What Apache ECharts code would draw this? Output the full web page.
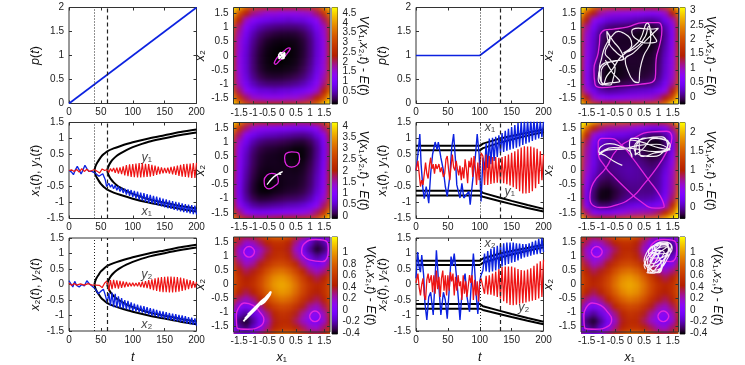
<!DOCTYPE html>
<html>
<head>
<meta charset="utf-8">
<style>
  html, body { margin: 0; background: #fff; }
  #heat, #main { position: absolute; left: 0; top: 0; width: 745px; height: 365px; }
  #main { filter: blur(.4px); }
</style>
<script src="https://cdn.jsdelivr.net/npm/echarts@6/dist/echarts.min.js"></script>
</head>
<body>
<div id="heat"></div>
<div id="main"></div>
<script>
// time axis of the fast oscillating parts
const teethLeft = [60,62.5,65,67.5,70,72.5,75,77.5,80,82.5,85,87.5,90,92.5,95,97.5,100,102.5,105,107.5,110,112.5,115,117.5,120,122.5,125,127.5,130,132.5,135,137.5,140,142.5,145,147.5,150,152.5,155,157.5,160,162.5,165,167.5,170,172.5,175,177.5,180,182.5,185,187.5,190,192.5,195,197.5,200]
const teethRight = [105,107.5,110,112.5,115,117.5,120,122.5,125,127.5,130,132.5,135,137.5,140,142.5,145,147.5,150,152.5,155,157.5,160,162.5,165,167.5,170,172.5,175,177.5,180,182.5,185,187.5,190,192.5,195,197.5,200]

const pLeft = [[0,0],[200,2]]
const pRight = [[0,1],[100,1],[200,2]]
const markLeft = [40,60]
const markRight = [100,132]

// black branches
const upOuter = [[40,0],[41,.1],[43,.2],[46,.3],[50,.42],[55,.52],[60,.6],[70,.69],[80,.76],[100,.88],[125,1],[150,1.1],[175,1.2],[200,1.28]]
const upInner = [[60,0],[61,.08],[63,.18],[66,.28],[70,.37],[75,.46],[80,.53],[90,.64],[100,.73],[125,.9],[150,1.01],[175,1.11],[200,1.19]]
const lowOuter = [[40,0],[41,-.1],[43,-.2],[46,-.3],[50,-.42],[55,-.52],[60,-.6],[70,-.69],[80,-.76],[100,-.88],[125,-1],[150,-1.1],[175,-1.2],[200,-1.28]]
const lowInner = [[60,0],[61,-.08],[63,-.18],[66,-.28],[70,-.37],[75,-.46],[80,-.53],[90,-.64],[100,-.73],[125,-.9],[150,-1.01],[175,-1.11],[200,-1.19]]
const rUpOuter = [[0,.77],[100,.77],[105,.84],[132,1],[150,1.08],[175,1.18],[200,1.28]]
const rUpInner = [[0,.63],[100,.63],[105,.7],[132,.87],[150,.97],[175,1.09],[200,1.2]]
const rLowInner = [[0,-.63],[100,-.63],[105,-.7],[132,-.85],[150,-.95],[175,-1.08],[200,-1.2]]
const rLowOuter = [[0,-.78],[100,-.78],[105,-.82],[132,-.96],[150,-1.05],[175,-1.17],[200,-1.28]]

// panel x1,y1 left
const x1LeftHead = [[0,0],[4,-.05],[7,-.13],[10,.02],[13,.13],[16,.02],[19,-.11],[22,.02],[25,.16],[28,.06],[31,-.03],[35,-.02],[38,0],[41,-.08],[44,-.14],[47,-.18],[50,-.16],[53,-.1],[55,-.08],[57,-.3],[59,-.5]]
const x1LeftTeeth = [-.48,-.4,-.52,-.44,-.57,-.46,-.62,-.5,-.66,-.54,-.7,-.57,-.75,-.59,-.79,-.61,-.83,-.64,-.87,-.66,-.91,-.69,-.94,-.71,-.98,-.74,-1.01,-.76,-1.03,-.79,-1.06,-.82,-1.09,-.85,-1.12,-.88,-1.15,-.9,-1.18,-.93,-1.2,-.96,-1.23,-.98,-1.25,-1,-1.28,-1.03,-1.3,-1.05,-1.32,-1.07,-1.34,-1.08,-1.36,-1.1,-1.37]
const y1LeftHead = [[0,0],[4,.02],[8,-.03],[12,.03],[16,-.05],[20,.06],[24,-.03],[28,.04],[32,-.03],[36,0],[40,.03],[44,-.02],[48,-.08],[52,.05],[56,0]]
const y1LeftTeeth = [.03,-.06,.06,-.03,.08,-.07,.09,-.1,.1,-.11,.13,-.15,.17,-.18,.19,-.2,.2,-.21,.22,-.22,.23,-.22,.23,-.21,.21,-.2,.2,-.19,.18,-.17,.15,-.14,.12,-.11,.1,-.09,.08,-.08,.09,-.1,.11,-.12,.13,-.14,.15,-.17,.18,-.19,.2,-.2,.21,-.22,.22,-.23,.23,-.23,.24]

// panel x2,y2 left
const x2LeftHead = [[0,.12],[3,.02],[6,-.08],[9,.1],[12,-.03],[16,-.08],[20,0],[24,-.05],[28,.12],[32,.02],[36,-.05],[40,-.12],[43,-.2],[46,-.3],[50,-.22],[54,-.15],[57,-.35]]
const x2LeftTeeth = [-.58,-.28,-.68,-.26,-.73,-.3,-.75,-.38,-.76,-.44,-.78,-.5,-.8,-.53,-.82,-.58,-.85,-.62,-.87,-.65,-.89,-.68,-.91,-.7,-.94,-.73,-.97,-.76,-1,-.79,-1.02,-.82,-1.05,-.85,-1.08,-.87,-1.1,-.89,-1.13,-.92,-1.15,-.94,-1.17,-.96,-1.19,-.98,-1.21,-1,-1.23,-1.02,-1.26,-1.05,-1.28,-1.07,-1.3,-1.09,-1.33]
const y2LeftHead = [[0,.05],[4,-.03],[8,.03],[12,-.02],[18,.02],[24,-.02],[30,.03],[36,-.02],[42,-.02],[48,-.03],[52,-.1],[56,.05]]
const y2LeftTeeth = [.12,-.2,.14,-.15,.15,-.12,.13,-.13,.12,-.11,.1,-.09,.08,-.07,.06,-.06,.06,-.06,.05,-.06,.07,-.08,.09,-.1,.11,-.12,.14,-.15,.17,-.18,.2,-.21,.22,-.23,.24,-.25,.25,-.25,.26,-.26,.26,-.26,.25,-.25,.24,-.23,.22,-.21,.2,-.18,.17,-.15,.14,-.12,.11,-.1,.08]

// panel x1,y1 right
const x1RightHead = [[0,0],[3,.5],[6,1.14],[8,.2],[11,-.6],[13,-.88],[16,-.5],[18,-.75],[20,-1.02],[23,-.1],[26,.5],[30,.89],[33,.65],[35,.89],[39,.4],[43,0],[46,-.5],[49,-.81],[52,-.82],[53,-.2],[56,.7],[59,1.14],[62,.3],[64,-.45],[69,-.86],[72,-.4],[75,-.86],[78,-.9],[83,-.65],[85,-1.07],[90,-.1],[93,.4],[96,1.14],[99,.5],[102,-.97]]
const x1RightTeeth = [.4,0,.85,.08,1,.2,1.02,.3,1.05,.42,1.1,.55,1.17,.58,1.24,.62,1.3,.65,1.36,.68,1.42,.71,1.48,.75,1.53,.8,1.55,.84,1.57,.88,1.58,.92,1.58,.96,1.56,1,1.55,1.04,1.53]
const y1RightHead = [[0,0],[3,.3],[5,-.1],[7,-.5],[9,-.3],[11,-.45],[13,-.1],[15,.25],[17,-.1],[19,-.25],[21,.15],[23,.4],[25,.05],[27,.2],[29,-.1],[31,.2],[33,.05],[36,.2],[38,-.05],[40,.1],[43,-.2],[45,-.1],[47,.35],[49,.45],[51,.05],[53,-.3],[55,.15],[57,.5],[59,.1],[61,0],[63,.3],[65,.05],[67,-.15],[69,.15],[71,-.3],[73,.1],[75,-.25],[77,.35],[79,.05],[81,-.4],[83,.3],[85,.1],[87,.4],[89,-.2],[91,.45],[93,.1],[95,-.45],[97,.25],[99,-.3],[102,.55]]
const y1RightTeeth = [.45,-.45,.5,-.45,.45,-.42,.42,-.4,.42,-.38,.4,-.38,.42,-.4,.45,-.43,.5,-.47,.55,-.52,.6,-.58,.66,-.65,.72,-.72,.76,-.72,.75,-.7,.75,-.65,.72,-.55,.68,-.42,.6,-.3,.5]

// panel x2,y2 right
const x2RightHead = [[0,.2],[2.6,1.05],[5,.55],[7,.4],[9,.95],[12,.3],[14,-.6],[17,-1.14],[20,-.4],[23,-.25],[27,-.98],[29,-.2],[32,1.1],[35,.2],[39,-.98],[43,-.25],[46,-.5],[49,-1.1],[52,-.2],[55,.9],[57,.6],[60,1],[64,.15],[67,-.6],[69,-1.14],[72,-.3],[75,.15],[77,.35],[80,-.4],[84,-.88],[87,.1],[90,1],[92,.5],[94,-.25],[97,-.95],[100,.1],[102,.3]]
const x2RightTeeth = [.45,1,.42,1.08,.4,1.15,.42,1.2,.45,1.25,.5,1.3,.58,1.33,.62,1.35,.66,1.35,.7,1.35,.73,1.33,.78,1.32,.83,1.3,.87,1.3,.9,1.33,.93,1.38,.96,1.42,.98,1.47,1,1.5,1.05]
const y2RightHead = [[0,.05],[3,.35],[5,-.1],[7,-.35],[9,0],[11,.2],[13,-.35],[15,-.5],[17,.15],[19,.35],[21,.05],[24,.3],[26,-.25],[28,.3],[30,-.3],[32,.45],[34,-.15],[36,.25],[38,-.4],[40,.2],[42,.45],[44,-.2],[46,.3],[48,-.35],[50,.3],[52,-.2],[54,.4],[56,.1],[58,.35],[60,-.35],[62,.25],[64,-.2],[66,.3],[68,-.05],[70,.1],[72,-.5],[74,.3],[76,-.3],[78,.1],[80,-.4],[82,-.35],[84,.3],[86,.05],[88,.3],[90,-.5],[92,.15],[94,-.35],[96,.1],[98,-.55],[100,.05],[102,.2]]
const y2RightTeeth = [.25,-.3,.28,-.32,.3,-.33,.35,-.36,.42,-.4,.5,-.46,.56,-.54,.58,-.6,.58,-.66,.58,-.67,.55,-.65,.5,-.62,.47,-.6,.45,-.58,.48,-.55,.52,-.52,.6,-.5,.68,-.45,.75,-.4,.8]

// V - E read on a 0.25 grid, rows from x2 = 1.75 down to -1.75
const heatAxis = [-1.75,-1.5,-1.25,-1,-.75,-.5,-.25,0,.25,.5,.75,1,1.25,1.5,1.75]
const heatTopLeft = [
  [4.78,4.4,3.6,3.2,2.9,2.7,2.6,2.6,2.6,2.6,2.6,2.8,3.2,3.9,4.78],
  [4.4,3.2,2.4,1.9,1.7,1.5,1.5,1.4,1.4,1.4,1.5,1.6,2,2.8,3.9],
  [3.6,2.4,1.6,1.2,.9,.8,.7,.7,.6,.7,.7,.9,1.3,2,3.2],
  [3.2,1.9,1.2,.7,.46,.33,.27,.23,.22,.23,.31,.51,.92,1.6,2.8],
  [2.9,1.7,.9,.46,.21,.09,.03,0,-.01,.01,.09,.31,.72,1.5,2.6],
  [2.7,1.5,.77,.33,.09,-.03,-.08,-.1,-.1,-.08,.01,.23,.65,1.4,2.6],
  [2.6,1.5,.7,.27,.03,-.08,-.12,-.14,-.14,-.1,-.01,.22,.64,1.4,2.6],
  [2.6,1.4,.66,.23,0,-.1,-.14,-.15,-.14,-.1,0,.23,.66,1.4,2.6],
  [2.6,1.4,.64,.22,-.01,-.1,-.14,-.14,-.12,-.08,.03,.27,.7,1.5,2.6],
  [2.6,1.4,.65,.23,.01,-.08,-.1,-.1,-.08,-.03,.09,.33,.77,1.5,2.7],
  [2.6,1.5,.72,.31,.09,.01,-.01,0,.03,.09,.21,.46,.9,1.7,2.9],
  [2.8,1.6,.92,.51,.31,.23,.22,.23,.27,.33,.46,.7,1.2,1.9,3.2],
  [3.2,2,1.3,.9,.7,.7,.6,.7,.7,.8,.9,1.2,1.6,2.4,3.6],
  [3.9,2.8,2,1.6,1.5,1.4,1.4,1.4,1.5,1.5,1.7,1.9,2.4,3.2,4.4],
  [4.78,3.9,3.2,2.8,2.6,2.6,2.6,2.6,2.6,2.7,2.9,3.2,3.6,4.4,4.78]
]
const heatTopRight = [
  [3.1,3,2.39,2.06,1.9,1.83,1.79,1.75,1.69,1.63,1.58,1.64,1.87,2.37,3.1],
  [3,1.99,1.4,1.07,.92,.86,.82,.79,.74,.68,.65,.71,.95,1.45,2.37],
  [2.39,1.4,.81,.49,.34,.29,.27,.24,.19,.15,.12,.19,.43,.95,1.87],
  [2.06,1.07,.49,.18,.04,0,-.02,-.04,-.08,-.12,-.14,-.06,.19,.71,1.64],
  [1.9,.92,.34,.04,-.09,-.13,-.14,-.15,-.18,-.21,-.23,-.14,.12,.65,1.58],
  [1.83,.86,.29,0,-.13,-.15,-.16,-.16,-.19,-.21,-.21,-.12,.15,.68,1.63],
  [1.79,.82,.27,-.02,-.14,-.16,-.15,-.15,-.17,-.19,-.18,-.08,.19,.74,1.69],
  [1.75,.79,.24,-.04,-.15,-.16,-.15,-.14,-.15,-.16,-.15,-.04,.24,.79,1.75],
  [1.69,.74,.19,-.08,-.18,-.19,-.17,-.15,-.15,-.16,-.14,-.02,.27,.82,1.79],
  [1.63,.68,.15,-.12,-.21,-.21,-.19,-.16,-.16,-.15,-.13,0,.29,.86,1.83],
  [1.58,.65,.12,-.14,-.23,-.21,-.18,-.15,-.14,-.13,-.09,.04,.34,.92,1.9],
  [1.64,.71,.19,-.06,-.14,-.12,-.08,-.04,-.02,0,.04,.18,.49,1.07,2.06],
  [1.87,.95,.43,.19,.12,.15,.19,.24,.27,.29,.34,.49,.81,1.4,2.39],
  [2.37,1.45,.95,.71,.65,.68,.74,.79,.82,.86,.92,1.07,1.4,1.99,3],
  [3.1,2.37,1.87,1.64,1.58,1.63,1.69,1.75,1.79,1.83,1.9,2.06,2.39,3,3.1]
]
const heatMidLeft = [
  [4.15,3.42,2.77,2.4,2.21,2.11,2.05,1.99,1.93,1.85,1.81,1.88,2.11,2.63,3.57],
  [3.42,2.37,1.72,1.36,1.18,1.09,1.05,.99,.93,.87,.84,.92,1.16,1.69,2.63],
  [2.77,1.72,1.09,.74,.56,.48,.45,.4,.35,.3,.28,.36,.62,1.16,2.11],
  [2.4,1.36,.74,.4,.23,.16,.14,.1,.06,.02,.01,.1,.36,.92,1.88],
  [2.21,1.18,.56,.23,.07,.02,0,-.03,-.06,-.1,-.09,.01,.28,.84,1.81],
  [2.11,1.09,.48,.16,.02,-.03,-.04,-.06,-.08,-.11,-.1,.02,.3,.87,1.85],
  [2.05,1.05,.45,.14,0,-.04,-.04,-.05,-.06,-.08,-.06,.06,.35,.93,1.93],
  [1.99,.99,.4,.1,-.03,-.06,-.05,-.05,-.05,-.06,-.03,.1,.4,.99,1.99],
  [1.93,.93,.35,.06,-.06,-.08,-.06,-.05,-.04,-.04,0,.14,.45,1.05,2.05],
  [1.85,.87,.3,.02,-.1,-.11,-.08,-.06,-.04,-.03,.02,.16,.48,1.09,2.11],
  [1.81,.84,.28,.01,-.09,-.1,-.06,-.03,0,.02,.07,.23,.56,1.18,2.21],
  [1.88,.92,.36,.1,.01,.02,.06,.1,.14,.16,.23,.4,.74,1.36,2.4],
  [2.11,1.16,.62,.36,.28,.3,.35,.4,.45,.48,.56,.74,1.09,1.72,2.77],
  [2.63,1.69,1.16,.92,.84,.87,.93,.99,1.05,1.09,1.18,1.36,1.72,2.37,3.42],
  [3.57,2.63,2.11,1.88,1.81,1.85,1.93,1.99,2.05,2.11,2.21,2.4,2.77,3.42,4.15]
]
const heatMidRight = [
  [2.27,2.27,1.96,1.7,1.58,1.53,1.49,1.43,1.33,1.21,1.1,1.06,1.18,1.55,2.27],
  [2.27,1.59,1.07,.81,.7,.67,.64,.59,.5,.4,.3,.27,.39,.78,1.55],
  [1.96,1.07,.56,.31,.22,.19,.18,.14,.06,-.03,-.12,-.13,0,.39,1.18],
  [1.7,.81,.31,.08,0,-.02,-.02,-.05,-.11,-.2,-.27,-.28,-.13,.27,1.06],
  [1.58,.7,.22,0,-.08,-.08,-.08,-.09,-.15,-.22,-.28,-.27,-.12,.3,1.1],
  [1.53,.67,.19,-.02,-.08,-.08,-.06,-.06,-.1,-.16,-.22,-.2,-.03,.4,1.21],
  [1.49,.64,.18,-.02,-.08,-.06,-.03,-.02,-.05,-.1,-.15,-.11,.06,.5,1.33],
  [1.43,.59,.14,-.05,-.09,-.06,-.02,0,-.02,-.06,-.09,-.05,.14,.59,1.43],
  [1.33,.5,.06,-.11,-.15,-.1,-.05,-.02,-.03,-.06,-.08,-.02,.18,.64,1.49],
  [1.21,.4,-.03,-.2,-.22,-.16,-.1,-.06,-.06,-.08,-.08,-.02,.19,.67,1.53],
  [1.1,.3,-.12,-.27,-.28,-.22,-.15,-.09,-.08,-.08,-.08,0,.22,.7,1.58],
  [1.06,.27,-.13,-.28,-.27,-.2,-.11,-.05,-.02,-.02,0,.08,.31,.81,1.7],
  [1.18,.39,0,-.13,-.12,-.03,.06,.14,.18,.19,.22,.31,.56,1.07,1.96],
  [1.55,.78,.39,.27,.3,.4,.5,.59,.64,.67,.7,.81,1.07,1.59,2.27],
  [2.27,1.55,1.18,1.06,1.1,1.21,1.33,1.43,1.49,1.53,1.58,1.7,1.96,2.27,2.27]
]
const heatLate = [
  [.75,.52,.38,.46,.65,.78,.85,.85,.75,.56,.33,.11,-.03,.03,.28],
  [.58,.32,.16,.2,.33,.46,.55,.55,.45,.28,.06,-.16,-.3,-.22,.03],
  [.42,.16,-.03,.05,.18,.33,.48,.5,.4,.18,-.04,-.25,-.38,-.3,-.03],
  [.53,.2,.05,.11,.25,.4,.52,.56,.46,.28,.07,-.13,-.25,-.16,.11],
  [.65,.33,.18,.25,.4,.55,.66,.69,.62,.47,.26,.07,-.04,.06,.33],
  [.72,.46,.33,.4,.55,.72,.83,.87,.8,.66,.47,.28,.18,.28,.56],
  [.75,.55,.42,.5,.66,.83,.96,1,.94,.8,.62,.44,.34,.45,.72],
  [.75,.55,.47,.54,.69,.87,1,1.05,1,.87,.69,.54,.47,.55,.75],
  [.72,.45,.34,.44,.62,.8,.94,1,.96,.83,.66,.5,.42,.55,.75],
  [.56,.28,.18,.28,.47,.66,.8,.87,.83,.72,.55,.4,.33,.46,.72],
  [.33,.06,-.04,.07,.26,.47,.62,.69,.66,.55,.4,.25,.18,.33,.65],
  [.11,-.16,-.25,-.13,.07,.28,.46,.56,.52,.4,.25,.11,.05,.2,.53],
  [-.03,-.3,-.38,-.25,-.04,.18,.4,.5,.48,.33,.18,.05,-.03,.16,.42],
  [.03,-.22,-.3,-.16,.06,.28,.45,.55,.55,.46,.33,.2,.16,.32,.58],
  [.28,.03,-.03,.11,.33,.56,.75,.85,.85,.78,.65,.46,.38,.52,.75]
]

// colour bar ranges and their ticks
const barTopLeft = [-.15,4.78]
const barTopRight = [-.24,3.1]
const barMidLeft = [-.12,4.15]
const barMidRight = [-.31,2.27]
const barLate = [-.42,1.27]
const ticksTopLeft = [0,.5,1,1.5,2,2.5,3,3.5,4,4.5]
const ticksTopRight = [0,.5,1,1.5,2,2.5,3]
const ticksMidLeft = [0,.5,1,1.5,2,2.5,3,3.5,4]
const ticksMidRight = [0,.5,1,1.5,2]
const ticksLate = [-.4,-.2,0,.2,.4,.6,.8,1]
const phaseTicks = [-1.5,-1,-.5,0,.5,1,1.5]

// contour V = E
const contourTL = [[-.27,-.27],[-.2,-.12],[-.05,.05],[.1,.18],[.25,.28],[.3,.26],[.22,.12],[.08,-.05],[-.08,-.18],[-.22,-.3],[-.27,-.27]]
const contourTR = [[-1.04,.74],[-.86,.91],[-.57,.94],[-.1,1.01],[.48,1.17],[1,1.17],[1.12,.91],[1.06,.45],[.92,-.13],[.89,-.78],[.36,-1.01],[-.34,-1.07],[-.98,-1.12],[-1.21,-1.01],[-1.25,-.48],[-1.1,.1],[-1.04,.74]]
const contourMLa = [[-.6,-.55],[-.62,-.35],[-.5,-.15],[-.35,-.1],[-.15,-.2],[-.12,-.4],[-.25,-.55],[-.45,-.65],[-.6,-.55]]
const contourMLb = [[.1,.45],[.15,.6],[.35,.66],[.6,.6],[.63,.4],[.55,.2],[.35,.12],[.15,.22],[.1,.45]]
const contourMRa = [[-1.39,-.96],[-1.27,-.44],[-.83,.09],[-.45,.73],[.13,1.14],[.77,1.37],[1.29,1.39],[1.47,1.14],[1.29,.67],[.94,.09],[.48,-.5],[.13,-.9],[-.45,-1.22],[-1.04,-1.31],[-1.36,-1.14],[-1.39,-.96]]
const contourMRb = [[-1.1,1.02],[-.98,1.14],[-.69,1.14],[-.34,.96],[.01,.55],[.65,-.32],[1.06,-.9],[1.2,-1.29],[.89,-1.33],[.36,-1.08],[-.1,-.67],[-.57,-.2],[-.83,.09],[-1.1,.67],[-1.1,1.02]]
const contourLateLL = [[-1.6,-1.1],[-1.54,-.87],[-1.31,-.66],[-1.01,-.75],[-.78,-.98],[-.63,-1.25],[-.78,-1.51],[-1.19,-1.6],[-1.56,-1.57],[-1.6,-1.1]]
const contourLateUR = [[.7,1.17],[.79,1.46],[1.2,1.61],[1.6,1.52],[1.64,1.23],[1.43,.82],[.97,.88],[.73,1.06],[.7,1.17]]
const contourLateUL = [[-1.34,1.17],[-1.28,1.3],[-1.15,1.36],[-1.02,1.3],[-.96,1.17],[-1.02,1.04],[-1.15,.98],[-1.28,1.04],[-1.34,1.17]]
const contourLateLR = [[.98,-1.14],[1.04,-1.01],[1.17,-.95],[1.3,-1.01],[1.36,-1.14],[1.3,-1.27],[1.17,-1.33],[1.04,-1.27],[.98,-1.14]]

// phase space trajectories
const orbitTL = [[-.12,-.1],[.1,.12],[.12,-.02],[-.08,.1],[-.12,-.05],[.08,-.1],[.12,.08],[-.05,.12],[-.12,.02],[.02,-.12],[.1,.1],[-.1,-.12],[0,0],[.1,-.08],[-.06,.06]]
const orbitTR = [[-.8,.86],[-.57,.51],[-.34,.22],[-.22,-.08],[-.51,-.19],[-.86,-.25],[-1.04,-.43],[-1.1,-.83],[-.95,-1.03],[-.8,-.72],[-.57,-.43],[-.34,-.08],[.07,.27],[.36,.57],[.62,1.15],[.77,.8],[.94,.51],[.65,.45],[.19,.62],[.07,.86],[.3,.97],[.65,.94],[1,.97],[.59,.57],[.13,.1],[-.16,-.13],[-.1,-.43],[.13,-.89],[.3,-.95],[.36,-.48],[.48,-.02],[.73,.57],[.65,1.03],[.54,.68],[.19,.27],[-.22,.1],[.07,.39],[.01,.62],[-.22,.8],[-.4,.86],[-.63,.68],[-.86,.33],[-.98,-.08],[-1.06,-.48],[-.92,-1],[-.69,-1.03],[-.57,-.78],[-.51,-.43],[-.69,-.13],[-.86,.1],[-.69,.57],[-.8,.86],[-.75,.5],[-.45,.1],[-.2,-.1],[-.75,-.25],[-1,-.6],[-.95,-1],[-.6,-.95],[-.35,-.9],[-.6,-.6],[-.85,-.15]]
const orbitML = [[-.52,-.5],[-.35,-.3],[-.18,-.16],[.03,-.04],[-.1,-.1],[-.02,-.14],[-.12,-.12],[-.3,-.24],[-.45,-.4]]
const orbitMR = [[-.26,.18],[-.57,.34],[-.86,.53],[-1.08,.67],[-1.01,.84],[-.69,.95],[-.28,.84],[.01,.67],[.08,.47],[-.01,.9],[.07,1.14],[.3,1.14],[.36,.55],[.48,.5],[.83,.61],[1.35,.73],[1.41,.9],[1.12,1.11],[.65,1.16],[.3,1.02],[.19,.55],[.42,.73],[.89,1.14],[1.35,1],[1.24,.73],[.83,.5],[.42,.53],[.15,.79],[.54,1.14],[1.12,1.19],[1.32,.84],[.89,.67],[.01,.79],[-.57,.81],[-.98,.67],[-1.06,.55],[-.75,.73],[-.22,.76],[.24,.88],[.94,.93],[1.41,.73],[1.06,.79],[.36,1.02],[.01,1.08]]
const orbitLL = [[-1.35,-1.32],[-1.05,-.95],[-1.3,-1.22],[-.95,-.85],[-1.25,-1.18],[-.85,-.78],[-1.2,-1.08],[-.8,-.68],[-1.1,-1.05],[-.75,-.62],[-.55,-.45],[-.38,-.25],[-.42,-.38],[-.6,-.62],[-.75,-.72],[-.58,-.48],[-.45,-.33],[-.4,-.27],[-.52,-.5],[-.72,-.66],[-.95,-.92],[-1.28,-1.25]]
const orbitLR = [[.55,.55],[.5,.7],[.65,.95],[.85,1.15],[1.05,1.2],[.95,.9],[.75,.6],[.6,.42],[.85,.4],[1.05,.55],[1.2,.85],[1.35,1.2],[1.3,1.45],[1.05,1.5],[.8,1.35],[.65,1.15],[.8,.95],[1.05,.95],[1.3,1.1],[1.45,1.35],[1.3,1.5],[1,1.4],[.75,1.1],[.62,.8],[.7,.55],[.95,.45],[1.1,.7],[1,1],[.85,1.3],[1.1,1.42],[1.38,1.3],[1.25,1],[1.05,.75],[.8,.65],[.55,.75],[.6,1],[.9,1.25],[1.2,1.35],[1.42,1.2],[1.3,.9],[1.1,.6],[.85,.5],[.7,.7],[.85,1],[1.1,1.2],[1.35,1.42],[1.15,1.48],[.9,1.42],[.7,1.3],[.55,1.05],[.5,.85],[.62,.6],[.8,.42],[1.02,.42],[1.15,.65],[1.25,.95],[1.4,1.1],[1.48,1.3],[1.4,1.48],[1.18,1.53],[.95,1.48],[.78,1.22],[.95,1.1],[1.18,1.1],[1.35,1.25],[1.2,1.45],[.98,1.3],[.82,1.05],[.7,.82],[.85,.75],[1.05,.9],[1.2,1.15],[1,1.22],[.78,.85],[.62,.55],[.72,.42],[.95,.62],[1.12,.88]]

// gnuplot pm3d colours
const palette = ['#000000','#39004f','#510096','#6301ce','#7202f3','#8004ff','#8c07f3','#970bce','#a11096','#ab174f','#b42000','#bd2a00','#c63700','#ce4600','#d55700','#dd6c00','#e48300','#eb9d00','#f2ba00','#f9da00','#ffff00']

const FONT = 'Liberation Sans'
const FRAME = '#333'
const BLUE = '#0c22e0'
const RED = '#ee1414'
const MAGENTA = '#e024e0'
const rich = {i: {fontStyle: 'italic', fontFamily: FONT, fontSize: 12.5, color: '#111'}, n: {fontFamily: FONT, fontSize: 12.5, color: '#111'}}

function zip (times, values) {
  return values.map((v, i) => [times[i], v])
}
function curve (data, color, width, smooth) {
  return {type: 'line', data: data, showSymbol: false, smooth: smooth || false, lineStyle: {color: color, width: width}}
}

const lineX = [69, 416]
const heatX = [[233.5, 96.5], [581, 97.5]]
const barX = [[332, 5.5], [680, 5]]
const rowY = [[7.5, 96], [122.5, 96], [238, 96]]
const heatY = [[7.5, 96.5], [122.5, 96], [237, 97]]
const LINE_W = 127.5

let grids = []
let xAxes = []
let yAxes = []
let series = []

function addFrame (rect) {
  grids.push({left: rect[0], top: rect[1], width: rect[2], height: rect[3], show: true, borderColor: FRAME, borderWidth: 1, backgroundColor: 'transparent'})
  return grids.length - 1
}
function addSeries (s, g, x, y) {
  s.xAxisIndex = x
  s.yAxisIndex = y
  series.push(s)
  return s
}
function tickStyle (shown) {
  return {show: shown, inside: true, length: 3, lineStyle: {color: FRAME, width: 1}}
}
const noLine = {show: false, onZero: false}
const labelStyle = {fontFamily: FONT, fontSize: 10, lineHeight: 8, color: '#222', margin: 5, showMinLabel: true, showMaxLabel: true}
function hidden (o) {
  return Object.assign({axisLine: noLine, splitLine: {show: false}, axisLabel: {show: false}, axisTick: {show: false}}, o)
}

function timePanel (col, row, yMin, yMax, yName, marks, items, notes, showT) {
  let g = addFrame([lineX[col], rowY[row][0], LINE_W, rowY[row][1]])
  let x = xAxes.length
  let y = yAxes.length
  xAxes.push({gridIndex: g, type: 'value', min: 0, max: 200, interval: 50, axisLine: noLine, splitLine: {show: false}, axisTick: tickStyle(true), axisLabel: labelStyle,
    name: showT ? '{i|t}' : '', nameLocation: 'middle', nameGap: 20, nameTextStyle: {rich: rich}})
  xAxes.push({gridIndex: g, type: 'value', min: 0, max: 200, interval: 50, position: 'top', axisLine: noLine, splitLine: {show: false}, axisTick: tickStyle(true), axisLabel: {show: false}})
  yAxes.push({gridIndex: g, type: 'value', min: yMin, max: yMax, interval: .5, axisLine: noLine, splitLine: {show: false}, axisTick: tickStyle(true), axisLabel: labelStyle,
    name: yName, nameLocation: 'middle', nameGap: 27, nameTextStyle: {rich: rich}})
  yAxes.push({gridIndex: g, type: 'value', min: yMin, max: yMax, interval: .5, position: 'right', axisLine: noLine, splitLine: {show: false}, axisTick: tickStyle(true), axisLabel: {show: false}})
  items.forEach((s, i) => {
    if (i === 0) {
      s.markLine = {silent: true, symbol: 'none', label: {show: false}, animation: false, data: [
        {xAxis: marks[0], lineStyle: {type: [1, 2], color: '#222', width: 1}},
        {xAxis: marks[1], lineStyle: {type: [4, 3], color: '#222', width: 1.2}}
      ]}
    }
    addSeries(s, g, x, y)
  })
  if (notes) {
    addSeries({type: 'scatter', symbolSize: 0, data: notes.map(n => ({value: [n[0], n[1]], label: {show: true, position: 'inside', formatter: n[2], rich: rich}}))}, g, x, y)
  }
}

function phasePanel (col, row, range, ticks, items, showX) {
  let g = addFrame([heatX[col][0], heatY[row][0], heatX[col][1], heatY[row][1]])
  let x = xAxes.length
  let y = yAxes.length
  let common = {gridIndex: g, type: 'value', min: -1.7, max: 1.7, axisLine: noLine, splitLine: {show: false}}
  let tick = Object.assign(tickStyle(true), {customValues: phaseTicks})
  xAxes.push(Object.assign({}, common, {axisTick: tick, axisLabel: Object.assign({customValues: phaseTicks}, labelStyle),
    name: showX ? '{i|x}{n|₁}' : '', nameLocation: 'middle', nameGap: 19, nameTextStyle: {rich: rich}}))
  xAxes.push(Object.assign({}, common, {position: 'top', axisTick: tick, axisLabel: {show: false}}))
  yAxes.push(Object.assign({}, common, {axisTick: tick, axisLabel: Object.assign({customValues: phaseTicks}, labelStyle),
    name: '{i|x}{n|₂}', nameLocation: 'middle', nameGap: 15, nameTextStyle: {rich: rich}}))
  yAxes.push(Object.assign({}, common, {position: 'right', axisTick: tick, axisLabel: {show: false}}))
  items.forEach(s => addSeries(s, g, x, y))

  // colour bar, gradient spanning the value range
  let b = addFrame([barX[col][0], heatY[row][0], barX[col][1], heatY[row][1]])
  let bx = xAxes.length
  let by = yAxes.length
  xAxes.push(hidden({gridIndex: b, type: 'value', min: 0, max: 1}))
  // every other label goes on a twin axis, on one axis ECharts drops labels this close together
  let barAxis = (vals) => ({gridIndex: b, type: 'value', min: range[0], max: range[1], position: 'right', axisLine: noLine, splitLine: {show: false},
    axisTick: {show: true, inside: true, length: 2, customValues: vals, lineStyle: {color: FRAME}},
    axisLabel: Object.assign({customValues: vals}, labelStyle)})
  yAxes.push(Object.assign(barAxis(ticks.filter((v, i) => i % 2 === 0)), {
    name: '{i|V}{n|(}{i|x}{n|₁,}{i|x}{n|₂,}{i|t}{n|) - }{i|E}{n|(}{i|t}{n|)}', nameLocation: 'middle', nameRotate: -90, nameGap: 19, nameTextStyle: {rich: rich}}))
  yAxes.push(barAxis(ticks.filter((v, i) => i % 2 === 1)))
  addSeries({type: 'custom', data: [[0, range[0], 1, range[1]]], encode: {x: [0, 2], y: [1, 3]}, z: 1,
    renderItem: (p, api) => {
      let a = api.coord([api.value(0), api.value(3)])
      let c = api.coord([api.value(2), api.value(1)])
      return {type: 'rect', shape: {x: a[0], y: a[1], width: c[0] - a[0], height: c[1] - a[1]},
        style: {fill: new echarts.graphic.LinearGradient(0, 1, 0, 0, palette.map((col, i) => ({offset: i / (palette.length - 1), color: col})))}}
    }}, b, bx, by)
}

function note (t, v, letter, idx) {
  return [t, v, '{i|' + letter + '}{n|' + idx + '}']
}

timePanel(0, 0, 0, 2, '{i|p}{n|(}{i|t}{n|)}', markLeft, [curve(pLeft, BLUE, 1.6)], null, false)
timePanel(1, 0, 0, 2, '{i|p}{n|(}{i|t}{n|)}', markRight, [curve(pRight, BLUE, 1.6)], null, false)

timePanel(0, 1, -1.5, 1.5, '{i|x}{n|₁(}{i|t}{n|), }{i|y}{n|₁(}{i|t}{n|)}', markLeft, [
  curve(upOuter, '#000', 2, .3), curve(upInner, '#000', 2, .3), curve(lowOuter, '#000', 2, .3), curve(lowInner, '#000', 2, .3),
  curve(x1LeftHead.concat(zip(teethLeft, x1LeftTeeth)), BLUE, 1.3),
  curve(y1LeftHead.concat(zip(teethLeft, y1LeftTeeth)), RED, 1.2)
], [note(122, .42, 'y', '₁'), note(122, -1.28, 'x', '₁')], false)

timePanel(1, 1, -1.5, 1.5, '{i|x}{n|₁(}{i|t}{n|), }{i|y}{n|₁(}{i|t}{n|)}', markRight, [
  curve(rUpOuter, '#000', 2), curve(rUpInner, '#000', 2), curve(rLowInner, '#000', 2), curve(rLowOuter, '#000', 2),
  curve(x1RightHead.concat(zip(teethRight, x1RightTeeth)), BLUE, 1.4),
  curve(y1RightHead.concat(zip(teethRight, y1RightTeeth)), RED, 1.3)
], [note(116, 1.33, 'x', '₁'), note(147, -.65, 'y', '₁')], false)

timePanel(0, 2, -1.5, 1.5, '{i|x}{n|₂(}{i|t}{n|), }{i|y}{n|₂(}{i|t}{n|)}', markLeft, [
  curve(upOuter, '#000', 2, .3), curve(upInner, '#000', 2, .3), curve(lowOuter, '#000', 2, .3), curve(lowInner, '#000', 2, .3),
  curve(x2LeftHead.concat(zip(teethLeft, x2LeftTeeth)), BLUE, 1.3),
  curve(y2LeftHead.concat(zip(teethLeft, y2LeftTeeth)), RED, 1.2)
], [note(122, .33, 'y', '₂'), note(122, -1.3, 'x', '₂')], true)

timePanel(1, 2, -1.5, 1.5, '{i|x}{n|₂(}{i|t}{n|), }{i|y}{n|₂(}{i|t}{n|)}', markRight, [
  curve(rUpOuter, '#000', 2), curve(rUpInner, '#000', 2), curve(rLowInner, '#000', 2), curve(rLowOuter, '#000', 2),
  curve(x2RightHead.concat(zip(teethRight, x2RightTeeth)), BLUE, 1.4),
  curve(y2RightHead.concat(zip(teethRight, y2RightTeeth)), RED, 1.3)
], [note(116, 1.32, 'x', '₂'), note(169, -.73, 'y', '₂')], true)

phasePanel(0, 0, barTopLeft, ticksTopLeft, [curve(contourTL, MAGENTA, 1.3, .5), curve(orbitTL, '#fff', 1.2)], false)
phasePanel(1, 0, barTopRight, ticksTopRight, [curve(contourTR, MAGENTA, 1.3, .5), curve(orbitTR, '#f4eef4', 1.2, .5)], false)
phasePanel(0, 1, barMidLeft, ticksMidLeft, [curve(contourMLa, MAGENTA, 1.3, .5), curve(contourMLb, MAGENTA, 1.3, .5), curve(orbitML, '#fff', 1.2, .3)], false)
phasePanel(1, 1, barMidRight, ticksMidRight, [curve(contourMRa, MAGENTA, 1.3, .5), curve(contourMRb, MAGENTA, 1.3, .5), curve(orbitMR, '#f4eef4', 1.2, .5)], false)
phasePanel(0, 2, barLate, ticksLate, [curve(contourLateLL, MAGENTA, 1.4, .5), curve(contourLateUR, MAGENTA, 1.4, .5), curve(contourLateUL, MAGENTA, 1.4, .5), curve(contourLateLR, MAGENTA, 1.4, .5), curve(orbitLL, '#fff', 1.8, .2)], true)
phasePanel(1, 2, barLate, ticksLate, [curve(contourLateLL, MAGENTA, 1.4, .5), curve(contourLateUR, MAGENTA, 1.4, .5), curve(contourLateUL, MAGENTA, 1.4, .5), curve(contourLateLR, MAGENTA, 1.4, .5), curve(orbitLR, '#f8eef8', 1.1, .5)], true)

let main = echarts.init(document.getElementById('main'), null, {renderer: 'canvas'})
main.setOption({animation: false, backgroundColor: 'transparent', grid: grids, xAxis: xAxes, yAxis: yAxes, series: series})

// heat maps sit in their own softened layer under the axes
const heatPanels = [
  [0, 0, heatTopLeft, barTopLeft], [1, 0, heatTopRight, barTopRight],
  [0, 1, heatMidLeft, barMidLeft], [1, 1, heatMidRight, barMidRight],
  [0, 2, heatLate, barLate], [1, 2, heatLate, barLate]
]
const OVER = .175 / 3.4
let hGrids = []
let hX = []
let hY = []
let hSeries = []
let hMaps = []
let clip = ''
heatPanels.forEach((h, k) => {
  let rx = heatX[h[0]]
  let ry = heatY[h[1]]
  clip += 'M' + rx[0] + ' ' + ry[0] + 'h' + rx[1] + 'v' + ry[1] + 'h-' + rx[1] + 'z'
  hGrids.push({left: rx[0] - rx[1] * OVER, top: ry[0] - ry[1] * OVER, width: rx[1] * (1 + 2 * OVER), height: ry[1] * (1 + 2 * OVER)})
  hX.push({gridIndex: k, type: 'category', data: heatAxis, show: false})
  hY.push({gridIndex: k, type: 'category', data: heatAxis, show: false, inverse: true})
  let cells = []
  h[2].forEach((row, j) => row.forEach((v, i) => cells.push([i, j, Math.min(v, h[3][1])])))
  hSeries.push({type: 'heatmap', xAxisIndex: k, yAxisIndex: k, data: cells, progressive: 0, emphasis: {disabled: true}})
  hMaps.push({type: 'continuous', show: false, seriesIndex: k, min: h[3][0], max: h[3][1], inRange: {color: palette}})
})
let heatDom = document.getElementById('heat')
heatDom.style.filter = 'blur(2.5px)'
heatDom.style.clipPath = "path('" + clip + "')"
let heat = echarts.init(heatDom)
heat.setOption({animation: false, grid: hGrids, xAxis: hX, yAxis: hY, visualMap: hMaps, series: hSeries})
</script>
</body>
</html>
